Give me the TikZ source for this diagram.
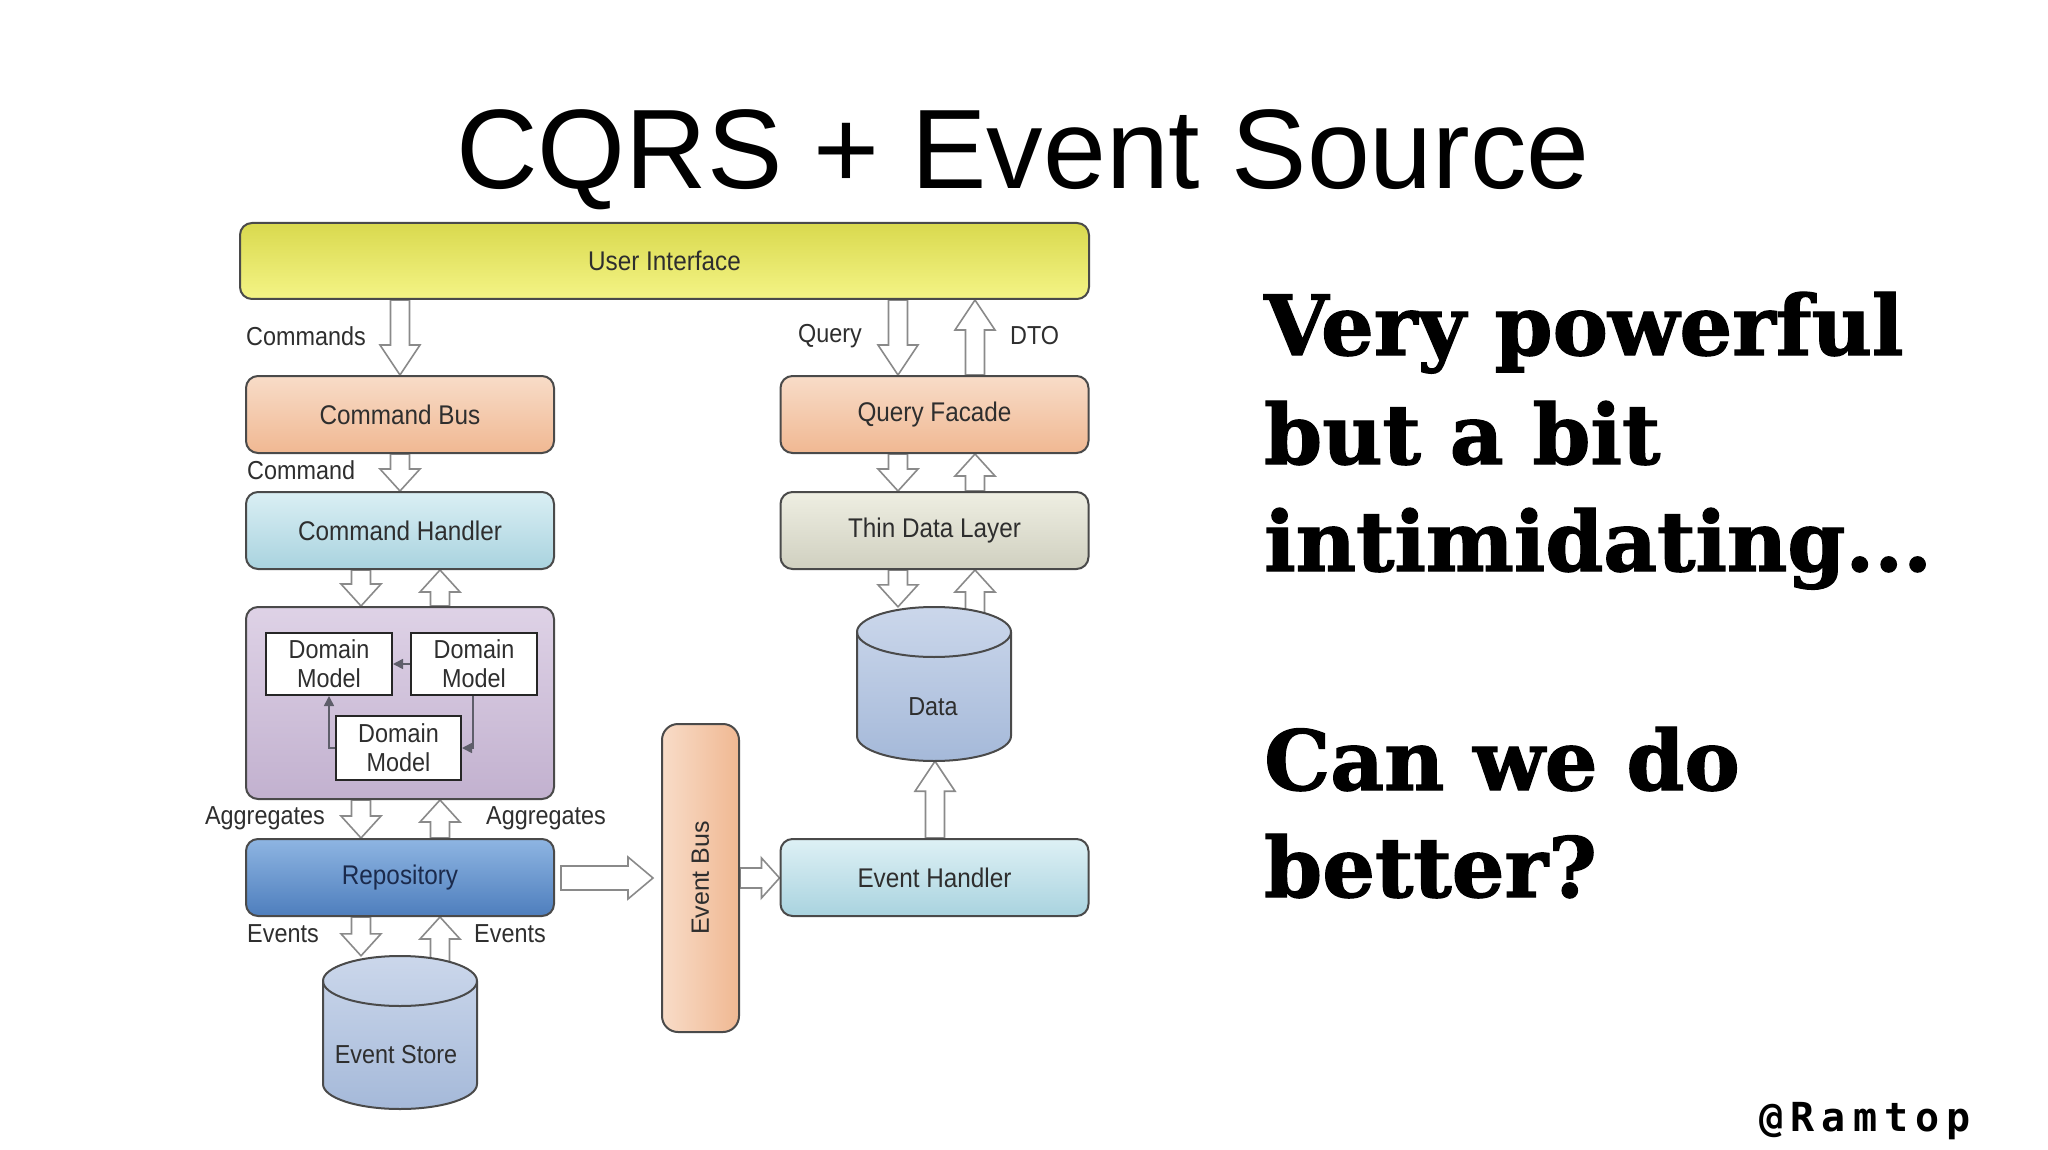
\documentclass[tikz,border=0pt]{standalone}
\usepackage{fontspec}
\setmainfont{Liberation Sans}
\newfontfamily\diagfont[FakeStretch=0.9]{Liberation Sans}
\newfontfamily\plainsans{Liberation Sans}
\newfontfamily\fatserif[FakeBold=1.5]{DejaVu Serif}
\newfontfamily\handlefont[LetterSpace=18]{DejaVu Sans Mono}
\usetikzlibrary{calc,arrows.meta}
\pgfdeclarelayer{bg}
\pgfsetlayers{bg,main}
\definecolor{edge}{HTML}{4A4A4A}
\definecolor{txt}{HTML}{2E2E2E}
\definecolor{arrline}{HTML}{8A8A8A}
\definecolor{uiTop}{HTML}{D9D94E}
\definecolor{uiBot}{HTML}{F4F486}
\definecolor{pchTop}{HTML}{F8DCC8}
\definecolor{pchBot}{HTML}{F0B892}
\definecolor{cyTop}{HTML}{DAEFF4}
\definecolor{cyBot}{HTML}{A9D3DF}
\definecolor{tdTop}{HTML}{EEEEE2}
\definecolor{tdBot}{HTML}{D0D0C0}
\definecolor{lvTop}{HTML}{DED2E6}
\definecolor{lvBot}{HTML}{C2B1CF}
\definecolor{rpTop}{HTML}{8EB5E2}
\definecolor{rpBot}{HTML}{4E7EBD}
\definecolor{clTop}{HTML}{CBD7EB}
\definecolor{clBot}{HTML}{A5B9D9}
\definecolor{dmline}{HTML}{5E5E6A}
\definecolor{navy}{HTML}{1B2A4C}

% vertical block arrow: #1 x-reference, #2 from, #3 to, #4 half shaft, #5 half head, #6 head length
\newcommand\varr[6]{%
  \draw[blockarr] let \p1=(#2 -| #1), \p2=(#3 -| #1), \n1={ifthenelse(\y2>\y1,1,-1)} in
  (\x1-#4,\y1) -- (\x1-#4,\y2-\n1*#6) -- (\x1-#5,\y2-\n1*#6) -- (\x2,\y2)
  -- (\x1+#5,\y2-\n1*#6) -- (\x1+#4,\y2-\n1*#6) -- (\x1+#4,\y1) -- cycle;}
% horizontal block arrow: #1 y-reference, #2 from, #3 to
\newcommand\harr[6]{%
  \draw[blockarr] let \p1=(#2 |- #1), \p2=(#3 |- #1), \n1={ifthenelse(\x2>\x1,1,-1)} in
  (\x1,\y1-#4) -- (\x2-\n1*#6,\y1-#4) -- (\x2-\n1*#6,\y1-#5) -- (\x2,\y1)
  -- (\x2-\n1*#6,\y1+#5) -- (\x2-\n1*#6,\y1+#4) -- (\x1,\y1+#4) -- cycle;}

\begin{document}
\begin{tikzpicture}[x=1pt,y=1pt,
  box/.style={draw=edge, line width=2pt, rounded corners=12pt, minimum width=308pt,
    minimum height=77pt, inner sep=0pt, font=\diagfont\fontsize{27}{30}\selectfont, text=txt},
  dmbox/.style={draw=black!85, line width=2pt, fill=white, minimum width=126pt, minimum height=62pt,
    inner sep=0pt, align=center, font=\diagfont\fontsize{26}{29}\selectfont, text=txt},
  lbl/.style={inner sep=0pt, font=\diagfont\fontsize{26}{29}\selectfont, text=txt},
  blockarr/.style={draw=arrline, line width=1.6pt, fill=white, line join=miter},
  dmarrow/.style={draw=dmline, line width=1.6pt, -{Triangle[length=10pt,width=10pt]}},
  cyl/.style={draw=edge, line width=2pt, top color=clTop, bottom color=clBot},
  fat/.style={inner sep=0pt, anchor=base west, font=\fatserif\bfseries\fontsize{83}{96}\selectfont},
  ghost/.style={inner sep=0pt, minimum width=154pt, minimum height=154pt}]

\useasboundingbox (0,0) rectangle (2048,-1150);
\begin{pgfonlayer}{bg}
\fill[white] (0,0) rectangle (2048,-1150);
\end{pgfonlayer}

% title
\node[inner sep=0pt, anchor=base, font=\plainsans\fontsize{113}{120}\selectfont] (title) at (1023,-189) {CQRS + Event Source};

% boxes
\node[box, minimum width=849pt, minimum height=76pt, top color=uiTop, bottom color=uiBot] (ui) at (664.5,-261) {User Interface};
\node[box, top color=pchTop, bottom color=pchBot] (cb) at (400,-414.5) {Command Bus};
\node[box, top color=pchTop, bottom color=pchBot] (qf) at (934.5,-414.5) {Query Facade};
\node[box, top color=cyTop, bottom color=cyBot] (ch) at (400,-530.5) {Command Handler};
\node[box, top color=tdTop, bottom color=tdBot] (tdl) at (934.5,-530.5) {Thin Data Layer};
\node[box, minimum height=192pt, top color=lvTop, bottom color=lvBot] (dom) at (400,-703) {};
\node[dmbox] (dm1) at (329,-664) {Domain\\Model};
\node[dmbox] (dm2) at (474,-664) {Domain\\Model};
\node[dmbox, minimum width=125pt, minimum height=64pt] (dm3) at (398.5,-748) {Domain\\Model};
\node[box, top color=rpTop, bottom color=rpBot, text=navy] (repo) at (400,-877.5) {Repository};
\node[box, top color=cyTop!90!white, bottom color=cyBot] (eh) at (934.5,-877.5) {Event Handler};
\node[box, minimum width=77pt, minimum height=308pt, rounded corners=16pt, left color=pchTop, right color=pchBot] (eb) at (700.5,-878) {};
\node[inner sep=0pt, rotate=90, font=\plainsans\fontsize{25}{28}\selectfont, text=txt] (ebl) at (eb.center) {Event Bus};

% cylinders
\node[ghost] (data) at (934,-684) {};
\draw[cyl] (857,-632) -- (857,-736) arc[start angle=180,end angle=360,x radius=77pt,y radius=25pt]
  -- (1011,-632) arc[start angle=0,end angle=180,x radius=77pt,y radius=25pt] -- cycle;
\draw[edge, line width=2pt] (857,-632) arc[start angle=180,end angle=360,x radius=77pt,y radius=25pt];
\node[lbl] (datal) at (933,-707) {Data};

\node[ghost, minimum height=153pt] (es) at (400,-1032.5) {};
\draw[cyl] (323,-981) -- (323,-1084) arc[start angle=180,end angle=360,x radius=77pt,y radius=25pt]
  -- (477,-981) arc[start angle=0,end angle=180,x radius=77pt,y radius=25pt] -- cycle;
\draw[edge, line width=2pt] (323,-981) arc[start angle=180,end angle=360,x radius=77pt,y radius=25pt];
\node[lbl] (esl) at (396,-1055) {Event Store};

% x / y references for arrows
\coordinate (xa) at (400,0);
\coordinate (xq) at (898,0);
\coordinate (xd) at (975,0);
\coordinate (xl) at (361,0);
\coordinate (xr) at (440,0);
\coordinate (xe) at (935,0);
\coordinate (yb) at (0,-878);
\coordinate (r1) at ($(repo.east)+(6,0)$);
\coordinate (r2) at ($(eb.west)+(-8,0)$);

\begin{pgfonlayer}{bg}
\varr{xa}{ui.south}{cb.north}{9.5pt}{20pt}{30pt}
\varr{xq}{ui.south}{qf.north}{9.5pt}{20pt}{30pt}
\varr{xd}{qf.north}{ui.south}{9.5pt}{20pt}{30pt}
\varr{xa}{cb.south}{ch.north}{9.5pt}{20pt}{22pt}
\varr{xq}{qf.south}{tdl.north}{9.5pt}{20pt}{22pt}
\varr{xd}{tdl.north}{qf.south}{9.5pt}{20pt}{22pt}
\varr{xl}{ch.south}{dom.north}{9.5pt}{20pt}{22pt}
\varr{xr}{dom.north}{ch.south}{9.5pt}{20pt}{22pt}
\varr{xq}{tdl.south}{data.north}{9.5pt}{20pt}{22pt}
\varr{xd}{data.center}{tdl.south}{9.5pt}{20pt}{22pt}
\varr{xl}{dom.south}{repo.north}{9.5pt}{20pt}{22pt}
\varr{xr}{repo.north}{dom.south}{9.5pt}{20pt}{22pt}
\varr{xl}{repo.south}{es.north}{9.5pt}{20pt}{22pt}
\varr{xr}{es.center}{repo.south}{9.5pt}{20pt}{22pt}
\varr{xe}{eh.north}{data.south}{9.5pt}{20pt}{30pt}
\harr{yb}{r1}{r2}{12pt}{21pt}{25pt}
\harr{yb}{eb.east}{eh.west}{10pt}{20pt}{18pt}
\end{pgfonlayer}

% domain model relations
\coordinate (xdl) at (329,0);
\coordinate (xdr) at (473,0);
\draw[dmarrow] (dm2.west) -- (dm1.east);
\draw[dmarrow] (dm3.west) -- (dm3.west -| xdl) -- (dm1.south -| xdl);
\draw[dmarrow] (dm2.south -| xdr) -- (xdr |- dm3.east) -- (dm3.east);

% labels
\node[lbl, anchor=east] (lcmds) at (366,-336) {Commands};
\node[lbl, anchor=east] (lquery) at (862,-336) {Query};
\node[lbl, anchor=west] (ldto) at (1010,-336) {DTO};
\node[lbl, anchor=west] (lcmd) at (247,-470) {Command};
\node[lbl, anchor=east] (lagl) at (325,-818) {Aggregates};
\node[lbl, anchor=west] (lagr) at (486,-818) {Aggregates};
\node[lbl, anchor=west] (levl) at (247,-934) {Events};
\node[lbl, anchor=west] (levr) at (474,-934) {Events};

% right-hand text
\node[fat] (t1) at (1264,-355) {Very powerful};
\node[fat] (t2) at (1264,-464) {but a bit};
\node[fat] (t3) at (1264,-571) {intimidating...};
\node[fat] (t4) at (1264,-790) {Can we do};
\node[fat] (t5) at (1264,-897) {better?};

\node[inner sep=0pt, anchor=base west, font=\handlefont\bfseries\fontsize{40}{44}\selectfont] (handle) at (1759,-1131) {@Ramtop};
\end{tikzpicture}
\end{document}
